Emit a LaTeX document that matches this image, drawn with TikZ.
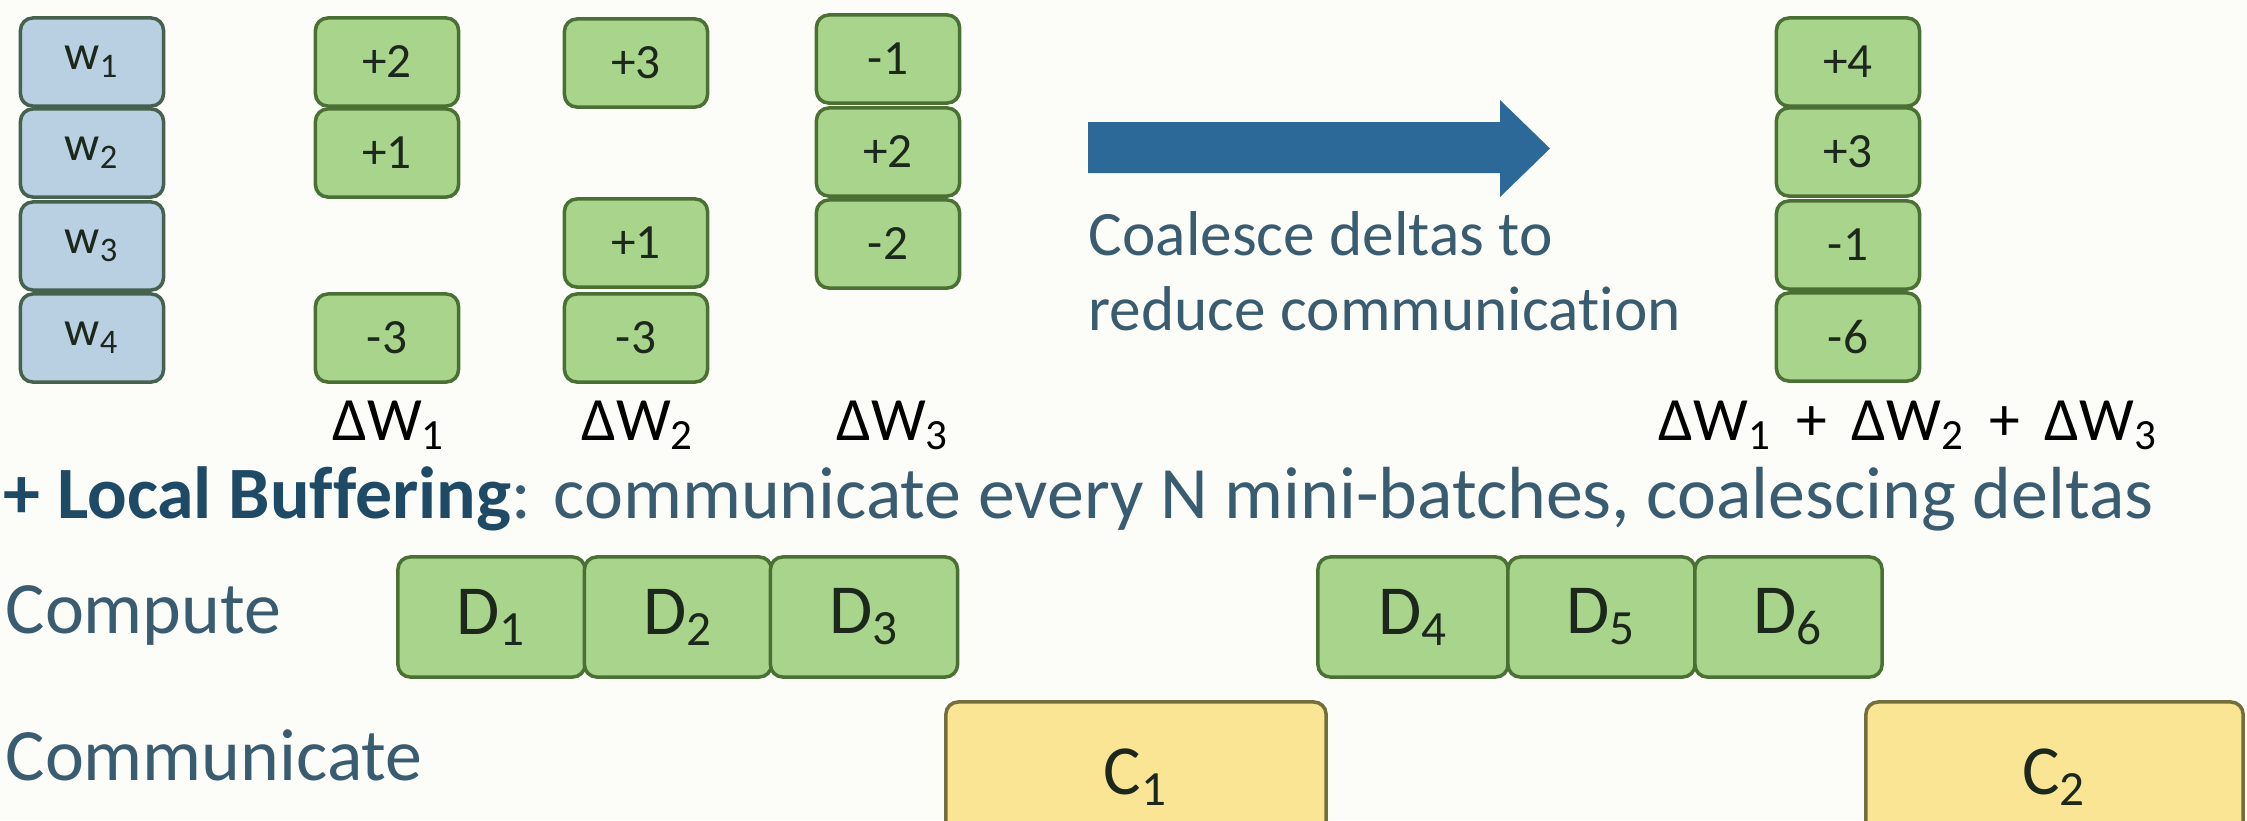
\documentclass[tikz,border=0pt]{standalone}
\usepackage{fontspec}
\setmainfont{Carlito}[Ligatures=NoCommon]
\definecolor{bg}{RGB}{252,253,249}
\definecolor{fillgreen}{RGB}{169,212,140}
\definecolor{bordergreen}{RGB}{74,112,52}
\definecolor{fillblue}{RGB}{184,208,226}
\definecolor{borderblue}{RGB}{70,98,78}
\definecolor{fillyellow}{RGB}{249,229,148}
\definecolor{borderyellow}{RGB}{116,110,58}
\definecolor{numtext}{RGB}{28,40,28}
\definecolor{labblue}{RGB}{58,92,112}
\definecolor{titleblue}{RGB}{30,74,102}
\definecolor{arrowblue}{RGB}{44,104,152}
\newcommand{\lsub}[1]{\textsubscript{#1}}
\newcommand{\lplus}{\hspace{0.4em}+\hspace{0.4em}}
\tikzset{
  cell/.style={draw=bordergreen, fill=fillgreen, line width=1pt, rounded corners=3.5pt,
    minimum width=1.43cm, minimum height=0.88cm, inner sep=0pt,
    font=\fontsize{14}{16}\selectfont, text=numtext},
  wcell/.style={cell, fill=fillblue, draw=borderblue},
  dcell/.style={cell, minimum width=1.87cm, minimum height=1.2cm, font=\fontsize{20}{24}\selectfont},
  ccell/.style={cell, fill=fillyellow, draw=borderyellow, minimum height=1.5cm, font=\fontsize{20}{24}\selectfont},
  lab/.style={inner sep=0pt, anchor=base west, text=labblue, font=\fontsize{21}{25}\selectfont},
  dlab/.style={inner sep=0pt, anchor=base, text=black, font=\fontsize{17.5}{21}\selectfont},
}
\begin{document}
\begin{tikzpicture}[x=0.01cm,y=-0.01cm]
\useasboundingbox (0,0) rectangle (2247,820);
\fill[bg] (0,0) rectangle (2247,820);
\clip (0,0) rectangle (2247,820);

% weights
\node[wcell] (w1) at (92,62) {w\lsub{1}};
\node[wcell] (w2) at (92,153) {w\lsub{2}};
\node[wcell] (w3) at (92,246) {w\lsub{3}};
\node[wcell] (w4) at (92,338) {w\lsub{4}};

% delta W1
\node[cell] (a1) at (387,62) {+2};
\node[cell] (a2) at (387,153) {+1};
\node[cell] (a4) at (387,338) {-3};
% delta W2
\node[cell] (b1) at (636,63) {+3};
\node[cell] (b3) at (636,243) {+1};
\node[cell] (b4) at (636,338) {-3};
% delta W3
\node[cell] (c1) at (888,59) {-1};
\node[cell] (c2) at (888,152) {+2};
\node[cell] (c3) at (888,244) {-2};
% result
\node[cell] (r1) at (1848,62) {+4};
\node[cell] (r2) at (1848,152) {+3};
\node[cell] (r3) at (1848,245) {-1};
\node[cell] (r4) at (1848,337) {-6};

% labels under columns
\node[dlab] (la) at (389,440) {ΔW\lsub{1}};
\node[dlab] (lb) at (638,440) {ΔW\lsub{2}};
\node[dlab] (lc) at (893,440) {ΔW\lsub{3}};
\node[dlab, anchor=base west] (lr) at (1658,440) {ΔW\lsub{1}\lplus ΔW\lsub{2}\lplus ΔW\lsub{3}};

% big arrow
\fill[arrowblue] (1088,122) -- (1500,122) -- (1500,100) -- (1550,148.5) -- (1500,197)
  -- (1500,173) -- (1088,173) -- cycle;
\node[inner sep=0pt, anchor=base west, text=labblue, font=\fontsize{18}{22}\selectfont] (co1) at (1088,255) {Coalesce deltas to};
\node[inner sep=0pt, anchor=base west, text=labblue, font=\fontsize{18}{22}\selectfont] (co2) at (1088,330) {reduce communication};

% title line
\node[lab] (title) at (3,518) {\textcolor{titleblue}{\textbf{+ Local Buffering}}: communicate every N mini-batches, coalescing deltas};

% timeline
\node[lab] (compute) at (5,633) {Compute};
\node[lab] (communicate) at (5,780) {Communicate};

\node[dcell] (d1) at (491.5,617) {D\lsub{1}};
\node[dcell] (d2) at (678,617) {D\lsub{2}};
\node[dcell] (d3) at (864,617) {D\lsub{3}};
\node[dcell, minimum width=1.9cm] (d4) at (1413,617) {D\lsub{4}};
\node[dcell] (d5) at (1601.5,617) {D\lsub{5}};
\node[dcell] (d6) at (1788.5,617) {D\lsub{6}};

\node[ccell, minimum width=3.8cm] (cc1) at (1136,777) {C\lsub{1}};
\node[ccell, minimum width=3.77cm] (cc2) at (2054.5,777) {C\lsub{2}};
\end{tikzpicture}
\end{document}
